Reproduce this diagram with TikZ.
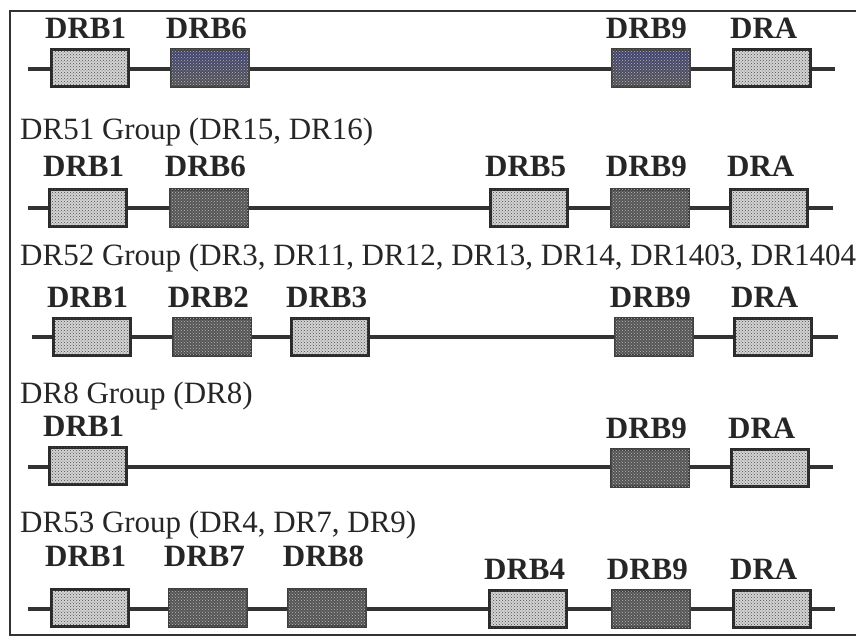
\documentclass[tikz,border=0pt]{standalone}
\usepackage{fontspec}
\setmainfont{Liberation Serif}
\usepackage{xcolor}
\usepackage{tikz}
\usetikzlibrary{positioning, calc, patterns}
\definecolor{edgegray}{HTML}{2A2A2A}
\definecolor{linegray}{HTML}{333333}
\definecolor{ltgene}{HTML}{D4D4D4}
\definecolor{dkgene}{HTML}{555555}
\definecolor{slate}{HTML}{3E4274}
\tikzset{
    litebox/.style={
        draw=edgegray, line width=3pt, fill=ltgene,
        minimum width=77pt, minimum height=37pt, inner sep=0pt,
        postaction={pattern=crosshatch dots, pattern color=black!70},
    },
    darkbox/.style={
        draw=edgegray!90, line width=2.5pt, fill=dkgene,
        minimum width=78pt, minimum height=37pt, inner sep=0pt,
        postaction={pattern=crosshatch dots, pattern color=gray!55},
    },
    bluebox/.style={
        darkbox, top color=slate, bottom color=dkgene,
    },
    chrom/.style={
        draw=linegray, line width=3.5pt,
    },
    genetag/.style={
        font=\fontsize{31}{31}\selectfont\bfseries, text=black!85,
        anchor=base west, inner sep=0pt,
    },
    grouptag/.style={
        font=\fontsize{31}{31}\selectfont, text=black!85,
        anchor=base west, inner sep=0pt,
    },
}

\begin{document}
\begin{tikzpicture}[x=1pt, y=-1pt]

\useasboundingbox (0,0) rectangle (856,638);
\clip (0,0) rectangle (856,638);

% frame, open at the right
\draw[linegray, line width=2pt] (856,11) -- (10,11) -- (10,635) -- (856,635);

% ═══ ROW 1 ═══
\coordinate (r1s) at (28,69);
\coordinate (r1e) at (835,69);
\draw[chrom] (r1s) -- (r1e);
\node[litebox] (r1drb1) at (90,68) {};
\node[bluebox] (r1drb6) at (210,68) {};
\node[bluebox] (r1drb9) at (651,68) {};
\node[litebox] (r1dra) at (772,68) {};
\node[genetag] (r1drb1t) at ([xshift=-5pt, yshift=10pt]r1drb1.north west) {DRB1};
\node[genetag] (r1drb6t) at ([xshift=-4pt, yshift=10pt]r1drb6.north west) {DRB6};
\node[genetag] (r1drb9t) at ([xshift=-5pt, yshift=10pt]r1drb9.north west) {DRB9};
\node[genetag] (r1drat) at ([xshift=-2pt, yshift=10pt]r1dra.north west) {DRA};

% ═══ ROW 2 ═══
\node[grouptag] (g51) at (20,139) {DR51 Group (DR15, DR16)};
\coordinate (r2s) at (28,208);
\coordinate (r2e) at (833,208);
\draw[chrom] (r2s) -- (r2e);
\node[litebox] (r2drb1) at (88,208) {};
\node[darkbox] (r2drb6) at (209,208) {};
\node[litebox] (r2drb5) at (529,208) {};
\node[darkbox] (r2drb9) at (650,208) {};
\node[litebox] (r2dra) at (769,208) {};
\node[genetag] (r2drb1t) at ([xshift=-5pt, yshift=12pt]r2drb1.north west) {DRB1};
\node[genetag] (r2drb6t) at ([xshift=-4pt, yshift=12pt]r2drb6.north west) {DRB6};
\node[genetag] (r2drb5t) at ([xshift=-4pt, yshift=12pt]r2drb5.north west) {DRB5};
\node[genetag] (r2drb9t) at ([xshift=-4pt, yshift=12pt]r2drb9.north west) {DRB9};
\node[genetag] (r2drat) at ([xshift=-2pt, yshift=12pt]r2dra.north west) {DRA};

% ═══ ROW 3 ═══
\node[grouptag] (g52) at (20,265) {DR52 Group (DR3, DR11, DR12, DR13, DR14, DR1403, DR1404)};
\coordinate (r3s) at (32,337);
\coordinate (r3e) at (838,337);
\draw[chrom] (r3s) -- (r3e);
\node[litebox] (r3drb1) at (92,337) {};
\node[darkbox] (r3drb2) at (212,337) {};
\node[litebox] (r3drb3) at (330,337) {};
\node[darkbox] (r3drb9) at (654,337) {};
\node[litebox] (r3dra) at (773,337) {};
\node[genetag] (r3drb1t) at ([xshift=-5pt, yshift=10pt]r3drb1.north west) {DRB1};
\node[genetag] (r3drb2t) at ([xshift=-4pt, yshift=10pt]r3drb2.north west) {DRB2};
\node[genetag] (r3drb3t) at ([xshift=-4pt, yshift=10pt]r3drb3.north west) {DRB3};
\node[genetag] (r3drb9t) at ([xshift=-4pt, yshift=10pt]r3drb9.north west) {DRB9};
\node[genetag] (r3drat) at ([xshift=-2pt, yshift=10pt]r3dra.north west) {DRA};

% ═══ ROW 4 ═══
\node[grouptag] (g8) at (20,403) {DR8 Group (DR8)};
\coordinate (r4s) at (28,467);
\coordinate (r4e) at (833,467);
\draw[chrom] (r4s) -- (r4e);
\node[litebox] (r4drb1) at (88,466) {};
\node[darkbox] (r4drb9) at (650,468) {};
\node[litebox] (r4dra) at (770,468) {};
\node[genetag] (r4drb1t) at ([xshift=-5pt, yshift=10pt]r4drb1.north west) {DRB1};
\node[genetag] (r4drb9t) at ([xshift=-4pt, yshift=10pt]r4drb9.north west) {DRB9};
\node[genetag] (r4drat) at ([xshift=-2pt, yshift=10pt]r4dra.north west) {DRA};

% ═══ ROW 5 ═══
\node[grouptag] (g53) at (20,532) {DR53 Group (DR4, DR7, DR9)};
\coordinate (r5s) at (28,609);
\coordinate (r5e) at (835,609);
\draw[chrom] (r5s) -- (r5e);
\node[litebox] (r5drb1) at (90,608) {};
\node[darkbox] (r5drb7) at (208,608) {};
\node[darkbox] (r5drb8) at (327,608) {};
\node[litebox] (r5drb4) at (528,609) {};
\node[darkbox] (r5drb9) at (651,609) {};
\node[litebox] (r5dra) at (772,609) {};
\node[genetag] (r5drb1t) at ([xshift=-5pt, yshift=22pt]r5drb1.north west) {DRB1};
\node[genetag] (r5drb7t) at ([xshift=-4pt, yshift=22pt]r5drb7.north west) {DRB7};
\node[genetag] (r5drb8t) at ([xshift=-4pt, yshift=22pt]r5drb8.north west) {DRB8};
\node[genetag] (r5drb4t) at ([xshift=-4pt, yshift=10pt]r5drb4.north west) {DRB4};
\node[genetag] (r5drb9t) at ([xshift=-4pt, yshift=10pt]r5drb9.north west) {DRB9};
\node[genetag] (r5drat) at ([xshift=-2pt, yshift=10pt]r5dra.north west) {DRA};

\end{tikzpicture}
\end{document}
